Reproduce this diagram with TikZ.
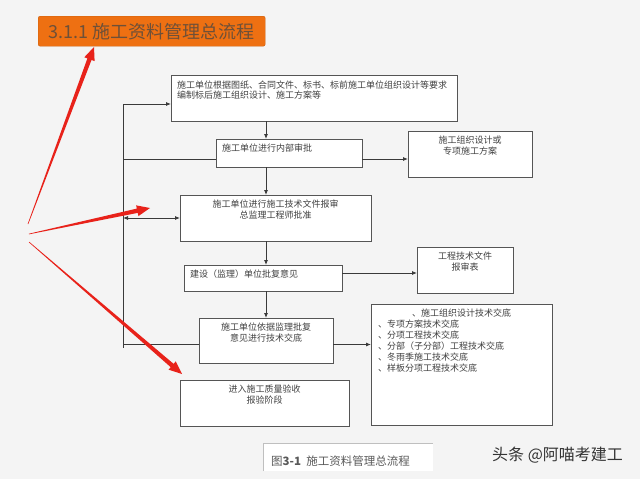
\documentclass[tikz,border=0pt]{standalone}
\usepackage{fontspec}
\setmainfont{Noto Sans CJK SC}
\usetikzlibrary{arrows.meta,calc}
\definecolor{bg}{HTML}{F4F4F4}
\definecolor{boxc}{HTML}{555555}
\definecolor{linec}{HTML}{3A3A3A}
\definecolor{txtc}{HTML}{404040}
\definecolor{orangec}{HTML}{EE7012}
\definecolor{titletxt}{HTML}{6E5038}
\definecolor{arrred}{RGB}{232,34,26}
\newcommand{\redarr}[2]{%
  \coordinate (B#2) at ($(#2)!13pt!(#1)$);
  \fill[arrred] ($(#1)!0.3pt!90:(#2)$) -- ($(B#2)!2.2pt!90:(#2)$) -- ($(B#2)!5.5pt!90:(#2)$) -- (#2)
    -- ($(B#2)!5.5pt!-90:(#2)$) -- ($(B#2)!2.2pt!-90:(#2)$) -- ($(#1)!0.3pt!-90:(#2)$) -- cycle;}
\begin{document}
\begin{tikzpicture}[x=1pt,y=-1pt,
  box/.style={draw=boxc, fill=white, line width=0.9pt, inner sep=0pt, outer sep=0pt, anchor=north west},
  txt/.style={font=\fontsize{9}{11}\selectfont, text=txtc, inner sep=0pt, align=center, anchor=north},
  txtl/.style={txt, align=left, anchor=north west},
  conn/.style={draw=linec, line width=0.8pt},
  arr/.style={conn, -{Latex[length=5pt,width=4pt]}},
  darr/.style={conn, {Latex[length=5pt,width=4pt]}-{Latex[length=5pt,width=4pt]}}
]
\fill[bg] (0,0) rectangle (640,479);
\useasboundingbox (0,0) rectangle (640,479);

% title
\node[anchor=north west, fill=orangec, draw=orangec!85!black, line width=0.4pt, rounded corners=2pt, minimum width=227pt, minimum height=30pt,
  inner sep=0pt, text=titletxt, font=\fontsize{18}{20}\selectfont] (title) at (38,16) {3.1.1 施工资料管理总流程};

% main boxes
\node[box, minimum width=286pt, minimum height=46pt] (b1) at (171,75) {};
\node[box, minimum width=146pt, minimum height=28pt] (b2) at (216,139) {};
\node[box, minimum width=191pt, minimum height=46pt] (b3) at (180,195) {};
\node[box, minimum width=158pt, minimum height=26pt] (b4) at (184,265) {};
\node[box, minimum width=134pt, minimum height=45pt] (b5) at (199,318) {};
\node[box, minimum width=169pt, minimum height=46pt] (b6) at (180,380) {};
% right boxes
\node[box, minimum width=124pt, minimum height=46pt] (r1) at (408,131) {};
\node[box, minimum width=96pt, minimum height=46pt] (r2) at (417,247) {};
\node[box, minimum width=181pt, minimum height=121pt] (r3) at (371,304) {};

% texts
\node[txtl, font=\fontsize{9}{10}\selectfont] (t1) at ([xshift=6pt,yshift=-6pt]b1.north west)
  {施工单位根据图纸、合同文件、标书、标前施工单位组织设计等要求\\编制标后施工组织设计、施工方案等};
\node[txtl] (t2) at ([xshift=6pt,yshift=-5pt]b2.north west) {施工单位进行内部审批};
\node[txt] (t3) at ([yshift=-5pt]b3.north) {施工单位进行施工技术文件报审\\总监理工程师批准};
\node[txtl] (t4) at ([xshift=6pt,yshift=-5pt]b4.north west) {建设（监理）单位批复意见};
\node[txt] (t5) at ([yshift=-5pt]b5.north) {施工单位依据监理批复\\意见进行技术交底};
\node[txt] (t6) at ([yshift=-5pt]b6.north) {进入施工质量验收\\报验阶段};
\node[txt] (tr1) at ([yshift=-5pt]r1.north) {施工组织设计或\\专项施工方案};
\node[txt] (tr2) at ([yshift=-5pt]r2.north) {工程技术文件\\报审表};
\node[txt] (tr3a) at ([yshift=-5pt]r3.north) {、施工组织设计技术交底};
\node[txtl] (tr3b) at ([xshift=7pt,yshift=-16pt]r3.north west)
  {、专项方案技术交底\\、分项工程技术交底\\、分部（子分部）工程技术交底\\、冬雨季施工技术交底\\、样板分项工程技术交底};

% spine and feedback coordinates
\coordinate (sp) at (266,0);
\coordinate (fbtop) at (123,104);
\coordinate (fbbot) at (123,348);

\draw[arr] (b1.south -| sp) -- (b2.north -| sp);
\draw[arr] (b2.south -| sp) -- (b3.north -| sp);
\draw[arr] (b3.south -| sp) -- (b4.north -| sp);
\draw[arr] (b4.south -| sp) -- (b5.north -| sp);

% feedback line
\draw[conn] (fbtop) -- (fbbot);
\draw[arr] (fbtop) -- (fbtop -| b1.west);
\draw[conn] ([yshift=-6pt]b2.west) -- ([yshift=-6pt]b2.west -| fbtop);
\draw[darr] (b3.west -| fbtop) -- (b3.west);
\draw[conn] ([yshift=-4pt]b5.west) -- ([yshift=-4pt]b5.west -| fbtop);

% side arrows
\draw[arr] ([yshift=-6pt]b2.east) -- ([yshift=-6pt]b2.east -| r1.west);
\draw[arr] ([yshift=5pt]b4.east) -- ([yshift=5pt]b4.east -| r2.west);
\draw[arr] ([yshift=-4pt]b5.east) -- ([yshift=-4pt]b5.east -| r3.west);

% red arrows
\coordinate (ra0) at (28,224);
\coordinate (ra1) at (94,47);
\coordinate (rb0) at (29,234);
\coordinate (rb1) at (150,208);
\coordinate (rc0) at (29,242);
\coordinate (rc1) at (182,374);
\redarr{ra0}{ra1}
\redarr{rb0}{rb1}
\redarr{rc0}{rc1}

% caption
\fill[white] (263,443) rectangle (433,471);
\draw[draw=black!25, line width=0.8pt] (263,471) -- (263,443) -- (433,443);
\node[anchor=west, inner sep=0pt, text=black!65, font=\fontsize{11.5}{13}\selectfont] (cap) at (271,461) {图\textbf{3-1}\ \ 施工资料管理总流程};

% watermark
\node[anchor=west, inner sep=0pt, text=black!80, font=\fontsize{16}{18}\selectfont] (wm) at (492,455) {头条 @阿喵考建工};
\end{tikzpicture}
\end{document}
